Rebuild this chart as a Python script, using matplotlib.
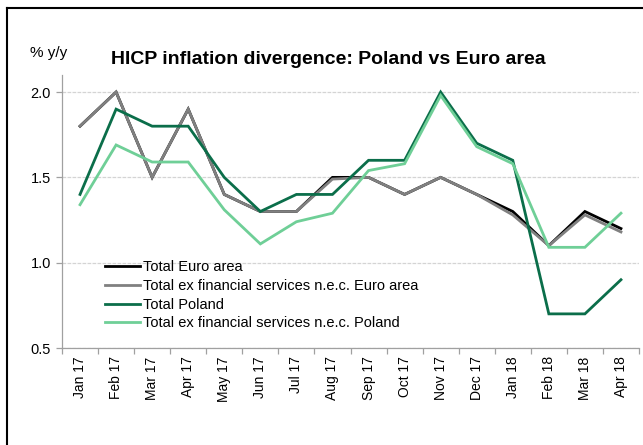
import matplotlib
matplotlib.use("Agg")
import matplotlib.pyplot as plt
from matplotlib.lines import Line2D
import numpy as np

plt.rcParams['font.family'] = ['Liberation Sans', 'DejaVu Sans']

months = ["Jan 17", "Feb 17", "Mar 17", "Apr 17", "May 17", "Jun 17", "Jul 17", "Aug 17",
          "Sep 17", "Oct 17", "Nov 17", "Dec 17", "Jan 18", "Feb 18", "Mar 18", "Apr 18"]
euro_total = [1.8, 2.0, 1.5, 1.9, 1.4, 1.3, 1.3, 1.5, 1.5, 1.4, 1.5, 1.4, 1.3, 1.1, 1.3, 1.2]
euro_exfin = [1.8, 2.0, 1.5, 1.9, 1.4, 1.3, 1.3, 1.49, 1.5, 1.4, 1.5, 1.4, 1.28, 1.1, 1.28, 1.18]
pl_total = [1.4, 1.9, 1.8, 1.8, 1.5, 1.3, 1.4, 1.4, 1.6, 1.6, 2.0, 1.7, 1.6, 0.7, 0.7, 0.9]
pl_exfin = [1.34, 1.69, 1.59, 1.59, 1.31, 1.11, 1.24, 1.29, 1.54, 1.58, 1.98, 1.68, 1.58, 1.09, 1.09, 1.29]

labels = ["Total Euro area", "Total ex financial services n.e.c. Euro area",
          "Total Poland", "Total ex financial services n.e.c. Poland"]
colors = ["#000000", "#808080", "#0b6e4a", "#6fcf97"]

fig = plt.figure(figsize=(6.43, 4.45), dpi=100)
ax = fig.add_axes([62/643, (445-348)/445, 577/643, 273/445])

x = np.arange(len(months))
for series, lab, col in zip([euro_total, euro_exfin, pl_total, pl_exfin], labels, colors):
    ax.plot(x, series, color=col, lw=2.0, label=lab, solid_joinstyle='miter')

ax.set_xlim(-0.5, len(months) - 0.5)
ax.set_ylim(0.5, 2.1)
ax.set_yticks([0.5, 1.0, 1.5, 2.0])
ax.set_yticklabels(["0.5", "1.0", "1.5", "2.0"], fontsize=10.5)
ax.yaxis.grid(True, color="#d4d4d4", lw=0.9, ls=(0, (3, 1)))
ax.set_axisbelow(True)

ax.set_xticks(x)
ax.set_xticklabels(months, rotation=90, fontsize=10)
ax.set_xticks(np.arange(-0.5, len(months)), minor=True)
ax.tick_params(axis='x', which='major', length=0, pad=6)
ax.tick_params(axis='x', which='minor', length=4, color="#a0a0a0", width=0.9)
ax.tick_params(axis='y', length=4, color="#a0a0a0", width=0.9, pad=4)

for s in ['top', 'right']:
    ax.spines[s].set_visible(False)
for s in ['left', 'bottom']:
    ax.spines[s].set_color("#a0a0a0")
    ax.spines[s].set_linewidth(0.9)

leg = ax.legend(loc='upper left', bbox_to_anchor=((105-62)/577, (348-260)/273),
                frameon=False, fontsize=10.5, handlelength=2.4, handletextpad=0.2,
                labelspacing=0.33, borderpad=0, borderaxespad=0)

fig.text(30/643, 1 - 53/445, "% y/y", fontsize=11, va='center', ha='left')
fig.text(328/643, 1 - 60/445, "HICP inflation divergence: Poland vs Euro area",
         fontsize=14, fontweight='bold', va='center', ha='center')

fig.add_artist(Line2D([7/643, 7/643], [0, 1 - 8/445], transform=fig.transFigure,
                      color='black', lw=1.5))
fig.add_artist(Line2D([7/643, 1], [1 - 8/445, 1 - 8/445], transform=fig.transFigure,
                      color='black', lw=1.5))

fig.savefig("out.png", dpi=100)
